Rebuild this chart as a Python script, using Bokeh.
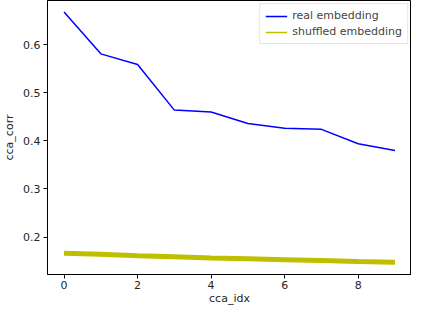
from bokeh.plotting import figure
from bokeh.models import Range1d, FixedTicker, Legend, LegendItem
from bokeh.embed import file_html
from bokeh.resources import INLINE

cca_idx = [0, 1, 2, 3, 4, 5, 6, 7, 8, 9]
real_corr = [0.668, 0.581, 0.559, 0.464, 0.460, 0.436, 0.426, 0.424, 0.394, 0.380]
shuffled_corr = [0.1663, 0.1640, 0.1610, 0.1590, 0.1562, 0.1548, 0.1529, 0.1510, 0.1489, 0.1476]
x_ticks = [0, 2, 4, 6, 8]
y_ticks = [0.2, 0.3, 0.4, 0.5, 0.6]

p = figure(width=411, height=307, output_backend="svg", toolbar_location=None,
           x_range=Range1d(-0.45, 9.45), y_range=Range1d(0.122, 0.692),
           min_border_left=38, min_border_right=0, min_border_top=0, min_border_bottom=20)
p.background_fill_color = "white"
p.border_fill_color = "white"
p.outline_line_color = "black"
p.outline_line_width = 1
p.grid.visible = False

r_real = p.line(cca_idx, real_corr, line_color="#0000ff", line_width=1.5)
r_shuf_thick = p.line(cca_idx, shuffled_corr, line_color="#bfbf00", line_width=5)
r_shuf = p.line(cca_idx, shuffled_corr, line_color="#bfbf00", line_width=1.5)

legend = Legend(items=[LegendItem(label="real embedding", renderers=[r_real]),
                       LegendItem(label="shuffled embedding", renderers=[r_shuf])],
                location="top_right")
legend.label_text_font = "DejaVu Sans"
legend.label_text_font_size = "11px"
legend.label_height = 12
legend.glyph_height = 12
legend.glyph_width = 22
legend.spacing = 3
legend.padding = 5
legend.margin = 3
legend.border_line_color = "#cccccc"
legend.border_line_width = 1
legend.background_fill_alpha = 0.8
p.add_layout(legend)

for ax in (p.xaxis, p.yaxis):
    ax.major_label_text_font = "DejaVu Sans"
    ax.major_label_text_font_size = "11px"
    ax.major_label_text_color = "#262626"
    ax.axis_label_text_font = "DejaVu Sans"
    ax.axis_label_text_font_size = "11px"
    ax.axis_label_text_font_style = "normal"
    ax.axis_label_text_color = "#262626"
    ax.minor_tick_line_color = None
    ax.major_tick_out = 4
    ax.major_tick_in = 0
    ax.axis_line_color = "black"
    ax.major_tick_line_color = "black"

p.xaxis.ticker = FixedTicker(ticks=x_ticks)
p.yaxis.ticker = FixedTicker(ticks=y_ticks)
p.xaxis.axis_label = "cca_idx"
p.yaxis.axis_label = "cca_corr"
p.xaxis.axis_label_standoff = 0
p.yaxis.axis_label_standoff = 4
p.xaxis.major_label_standoff = 2
p.yaxis.major_label_standoff = 3

open("out.html", "w").write(file_html(p, INLINE))
